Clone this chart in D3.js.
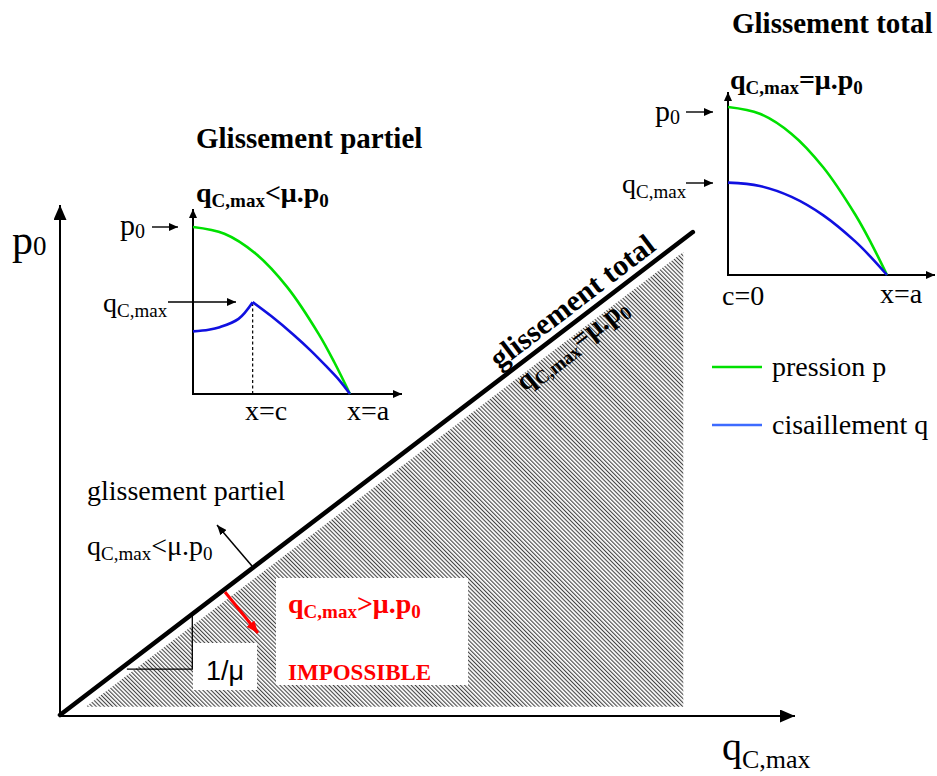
<!DOCTYPE html>
<html>
<head>
<meta charset="utf-8">
<script src="https://cdn.jsdelivr.net/npm/d3@7"></script>
<style>
  body { margin: 0; background: #fff; }
  text { font-family: "Liberation Serif", "Times New Roman", serif; }
  text.sans { font-family: "Liberation Sans", Arial, sans-serif; }
</style>
</head>
<body>
<script>
// inset curves: x as a fraction of the contact half-width a, values as a fraction of p0
var xPartial = [0, 0.2, 0.4, 0.6, 0.8, 0.9, 1];
var pPartial = [1, 0.96, 0.84, 0.64, 0.36, 0.19, 0];
var xStick = [0, 0.1, 0.17, 0.29, 0.38];
var qStick = [0.375, 0.385, 0.40, 0.45, 0.55];
var xSlip = [0.38, 0.5, 0.64, 0.75, 0.85, 0.93, 1];
var qSlip = [0.55, 0.465, 0.355, 0.26, 0.165, 0.085, 0];
var cPartial = 0.38;

var xTotal = [0, 0.2, 0.4, 0.6, 0.8, 0.9, 1];
var pTotal = [1, 0.96, 0.84, 0.64, 0.36, 0.19, 0];
var qTotal = [0.55, 0.53, 0.465, 0.355, 0.2, 0.105, 0];

// main diagram (qC,max on x, p0 on y, 0..100)
var limitEnd = [86.1, 94.7];          // end of the line qC,max = mu.p0
var impossibleZone = [[3.5, 1.6], [84.8, 1.6], [84.8, 90.8]];
var slopeRun = [9.1, 18.0], slopeY = 9.0, slopeTop = 19.8;

var legendLabels = ["pression p", "cisaillement q"];
var green = "#00e000", blue = "#1010e0", legendBlue = "#3d6bff", red = "#ff0000";

var W = 937, H = 776;
var svg = d3.select("body").append("svg")
    .attr("width", W)
    .attr("height", H);

var defs = svg.append("defs");
function marker(id, len, wid, color) {
    defs.append("marker")
        .attr("id", id)
        .attr("markerUnits", "userSpaceOnUse")
        .attr("viewBox", "0 0 " + len + " " + wid)
        .attr("refX", len).attr("refY", wid / 2)
        .attr("markerWidth", len).attr("markerHeight", wid)
        .attr("orient", "auto")
        .append("path")
        .attr("d", "M0,0L" + len + "," + (wid / 2) + "L0," + wid + "Z")
        .attr("fill", color);
}
marker("bigArrow", 15, 13, "#000");
marker("smallArrow", 9, 8, "#000");
marker("thinArrow", 10, 8, "#000");
marker("redArrow", 12, 10, red);

var hatch = defs.append("pattern")
    .attr("id", "hatch")
    .attr("patternUnits", "userSpaceOnUse")
    .attr("width", 2.9).attr("height", 10)
    .attr("patternTransform", "rotate(-45)");
hatch.append("rect")
    .attr("width", 1.1).attr("height", 10)
    .attr("fill", "#444");

// text with subscripts: parts = [[string, isSub], ...]
function rich(g, x, y, parts, size, subSize, weight, color, subDy) {
    var t = g.append("text")
        .attr("x", x).attr("y", y)
        .attr("font-size", size)
        .attr("font-weight", weight || "normal")
        .attr("fill", color || "#000");
    var down = false;
    parts.forEach(function (p) {
        var ts = t.append("tspan").text(p[0]);
        if (p[1]) {
            ts.attr("font-size", subSize);
            if (!down) ts.attr("dy", subDy);
            down = true;
        } else {
            if (down) ts.attr("dy", -subDy);
            down = false;
        }
    });
    return t;
}

// ---------- main diagram ----------
var x = d3.scaleLinear().domain([0, 100]).range([60, 795]);
var y = d3.scaleLinear().domain([0, 100]).range([715, 205]);

svg.append("path")
    .attr("d", d3.line()(impossibleZone.map(function (d) { return [x(d[0]), y(d[1])]; })) + "Z")
    .attr("fill", "url(#hatch)");

// white boxes over the hatching
svg.append("rect").attr("x", 193).attr("y", 643).attr("width", 64).attr("height", 47).attr("fill", "#fff");
svg.append("rect").attr("x", 276).attr("y", 578).attr("width", 192).attr("height", 107).attr("fill", "#fff");

svg.append("line")
    .attr("x1", x(0)).attr("y1", y(0)).attr("x2", x(0)).attr("y2", y(100))
    .attr("stroke", "#000").attr("stroke-width", 2)
    .attr("marker-end", "url(#bigArrow)");
svg.append("line")
    .attr("x1", x(0)).attr("y1", y(0) + 1).attr("x2", x(100)).attr("y2", y(0) + 1)
    .attr("stroke", "#000").attr("stroke-width", 2)
    .attr("marker-end", "url(#bigArrow)");

svg.append("line")
    .attr("x1", x(0)).attr("y1", y(0))
    .attr("x2", x(limitEnd[0])).attr("y2", y(limitEnd[1]))
    .attr("stroke", "#000").attr("stroke-width", 4.5)
    .attr("stroke-linecap", "round");

// slope triangle
svg.append("path")
    .attr("d", "M" + x(slopeRun[0]) + "," + y(slopeY) + "H" + x(slopeRun[1]) + "V" + y(slopeTop))
    .attr("fill", "none").attr("stroke", "#000").attr("stroke-width", 1.3);
svg.append("text")
    .attr("class", "sans")
    .attr("x", 225).attr("y", 680)
    .attr("text-anchor", "middle")
    .attr("font-size", 27)
    .text("1/\u03bc");

rich(svg, 12, 254, [["p"], ["0", 1]], 42, 27, "normal", "#000", 1);
rich(svg, 722, 760, [["q"], ["C,max", 1]], 40, 26, "normal", "#000", 8);

// labels along the limit line
var ang = Math.atan2(y(0) - y(limitEnd[1]), x(limitEnd[0]) - x(0));
var deg = -ang * 180 / Math.PI;
function onLine(s, n) {
    return [x(0) + s * Math.cos(ang) + n * Math.sin(ang), y(0) - s * Math.sin(ang) + n * Math.cos(ang)];
}
var p1 = onLine(658, -8);
svg.append("text")
    .attr("transform", "translate(" + p1[0] + "," + p1[1] + ") rotate(" + deg + ")")
    .attr("text-anchor", "middle")
    .attr("font-size", 30).attr("font-weight", "bold")
    .text("glissement total");
var p2 = onLine(632, 25);
rich(svg, 0, 0, [["q"], ["C,max", 1], ["=\u03bc.p"], ["0", 1]], 28, 19, "bold", "#000", 5)
    .attr("text-anchor", "middle")
    .attr("transform", "translate(" + p2[0] + "," + p2[1] + ") rotate(" + deg + ")");

svg.append("text").attr("x", 87).attr("y", 500).attr("font-size", 28).text("glissement partiel");
rich(svg, 87, 555, [["q"], ["C,max", 1], ["<\u03bc.p"], ["0", 1]], 28, 19, "normal", "#000", 5);
svg.append("line")
    .attr("x1", 252).attr("y1", 566).attr("x2", 217).attr("y2", 525)
    .attr("stroke", "#000").attr("stroke-width", 1.5)
    .attr("marker-end", "url(#thinArrow)");

svg.append("line")
    .attr("x1", 225).attr("y1", 592).attr("x2", 258).attr("y2", 633)
    .attr("stroke", red).attr("stroke-width", 3)
    .attr("marker-end", "url(#redArrow)");
rich(svg, 288, 613, [["q"], ["C,max", 1], [">\u03bc.p"], ["0", 1]], 28, 19, "bold", red, 5);
svg.append("text").attr("x", 288).attr("y", 680)
    .attr("font-size", 23).attr("font-weight", "bold").attr("fill", red)
    .text("IMPOSSIBLE");

// ---------- insets ----------
function inset(x0, x1, y0, y1, top, right) {
    var g = svg.append("g");
    var sx = d3.scaleLinear().domain([0, 1]).range([x0, x1]);
    var sy = d3.scaleLinear().domain([0, 1]).range([y0, y1]);
    g.append("line").attr("x1", x0).attr("y1", y0).attr("x2", x0).attr("y2", top)
        .attr("stroke", "#000").attr("stroke-width", 2).attr("marker-end", "url(#smallArrow)");
    g.append("line").attr("x1", x0 - 1).attr("y1", y0).attr("x2", right).attr("y2", y0)
        .attr("stroke", "#000").attr("stroke-width", 2).attr("marker-end", "url(#smallArrow)");
    return {g: g, sx: sx, sy: sy};
}
function curve(ins, xs, vs, color) {
    var line = d3.line()
        .x(function (d, i) { return ins.sx(xs[i]); })
        .y(function (d) { return ins.sy(d); })
        .curve(d3.curveCatmullRom.alpha(0.5));
    ins.g.append("path").attr("d", line(vs))
        .attr("fill", "none").attr("stroke", color).attr("stroke-width", 2.6);
}
function pointer(x1, x2, yy) {
    svg.append("line").attr("x1", x1).attr("y1", yy).attr("x2", x2).attr("y2", yy)
        .attr("stroke", "#000").attr("stroke-width", 1.4).attr("marker-end", "url(#smallArrow)");
}

// partial slip
var A = inset(193, 350, 394, 227, 209, 402);
A.g.append("line")
    .attr("x1", A.sx(cPartial)).attr("x2", A.sx(cPartial))
    .attr("y1", A.sy(0)).attr("y2", A.sy(qStick[qStick.length - 1]))
    .attr("stroke", "#000").attr("stroke-width", 1.2).attr("stroke-dasharray", "3,2.5");
curve(A, xPartial, pPartial, green);
curve(A, xStick, qStick, blue);
curve(A, xSlip, qSlip, blue);
svg.append("text").attr("x", 196).attr("y", 148).attr("font-size", 29).attr("font-weight", "bold").text("Glissement partiel");
rich(svg, 196, 202, [["q"], ["C,max", 1], ["<\u03bc.p"], ["0", 1]], 28, 19, "bold", "#000", 5);
rich(svg, 120, 235, [["p"], ["0", 1]], 30, 20, "normal", "#000", 3);
pointer(152, 178, 227);
rich(svg, 103, 312, [["q"], ["C,max", 1]], 28, 19, "normal", "#000", 5);
pointer(168, 236, 302);
svg.append("text").attr("x", 245).attr("y", 420).attr("font-size", 28).text("x=c");
svg.append("text").attr("x", 347).attr("y", 420).attr("font-size", 28).text("x=a");

// total slip
var B = inset(728, 887, 275, 107, 92, 935);
curve(B, xTotal, pTotal, green);
curve(B, xTotal, qTotal, blue);
svg.append("text").attr("x", 732).attr("y", 33).attr("font-size", 29).attr("font-weight", "bold").text("Glissement total");
rich(svg, 730, 89, [["q"], ["C,max", 1], ["=\u03bc.p"], ["0", 1]], 28, 19, "bold", "#000", 5);
rich(svg, 655, 121, [["p"], ["0", 1]], 30, 20, "normal", "#000", 3);
pointer(686, 713, 112);
rich(svg, 622, 193, [["q"], ["C,max", 1]], 28, 19, "normal", "#000", 5);
pointer(686, 713, 183);
svg.append("text").attr("x", 722).attr("y", 305).attr("font-size", 28).text("c=0");
svg.append("text").attr("x", 880).attr("y", 303).attr("font-size", 28).text("x=a");

// legend
var legend = svg.append("g").selectAll("g")
    .data(legendLabels)
    .enter().append("g")
    .attr("transform", function (d, i) { return "translate(712," + (367 + i * 58) + ")"; });
legend.append("line")
    .attr("x1", 0).attr("x2", 50)
    .attr("stroke", function (d, i) { return i === 0 ? green : legendBlue; })
    .attr("stroke-width", 2.5);
legend.append("text")
    .attr("x", 60).attr("y", 9)
    .attr("font-size", 28)
    .text(function (d) { return d; });
</script>
</body>
</html>
